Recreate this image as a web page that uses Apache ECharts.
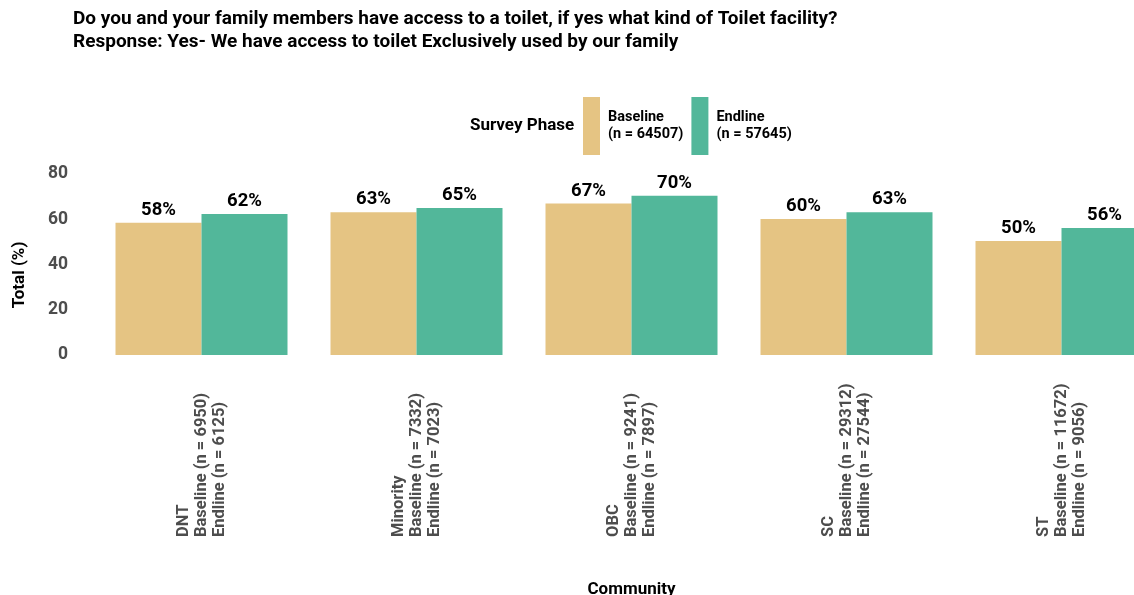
<!DOCTYPE html>
<html>
<head>
<meta charset="utf-8">
<script src="https://cdn.jsdelivr.net/npm/echarts@6/dist/echarts.min.js"></script>
<style>
html,body{margin:0;padding:0;background:#fff;}
#chart{width:1134px;height:595px;}
</style>
</head>
<body>
<div id="chart"></div>
<script>
const categories = ['DNT', 'Minority', 'OBC', 'SC', 'ST'];
const baselineN = [6950, 7332, 9241, 29312, 11672];
const endlineN = [6125, 7023, 7897, 27544, 9056];
const baselineValues = [58.4, 63.1, 67.0, 60.1, 50.4];
const endlineValues = [62.3, 65.0, 70.4, 63.1, 56.1];
const seriesNames = ['Baseline', 'Endline'];
const seriesTotals = [64507, 57645];
const yTicks = [0, 20, 40, 60, 80];

const titleText = 'Do you and your family members have access to a toilet, if yes what kind of Toilet facility?\nResponse: Yes- We have access to toilet Exclusively used by our family';
const FONT = 'Roboto';
const colors = ['#E5C483', '#52B79A'];

const chart = echarts.init(document.getElementById('chart'));
const legendNames = seriesNames.map((s, i) => s + '\n(n = ' + seriesTotals[i] + ')');

chart.setOption({
  animation: false,
  backgroundColor: '#ffffff',
  title: {
    text: titleText,
    left: 73,
    top: 8,
    padding: 0,
    textStyle: {fontFamily: FONT, fontWeight: 'bold', fontSize: 19, color: '#000', lineHeight: 23}
  },
  graphic: [{
    type: 'text',
    left: 470,
    top: 117,
    style: {text: 'Survey Phase', font: 'bold 17px Roboto', fill: '#000'}
  }, {
    type: 'text',
    x: 20,
    y: 275,
    rotation: Math.PI / 2,
    style: {text: 'Total (%)', font: 'bold 17px Roboto', fill: '#000', align: 'center', verticalAlign: 'middle'}
  }],
  legend: {
    left: 583,
    top: 97,
    padding: 0,
    orient: 'horizontal',
    itemWidth: 17,
    itemHeight: 58,
    itemGap: 8,
    icon: 'rect',
    data: legendNames,
    textStyle: {fontFamily: FONT, fontWeight: 'bold', fontSize: 14.5, color: '#000', lineHeight: 17, padding: [0, 0, 0, 3]}
  },
  grid: {left: 94, top: 174, width: 1075, height: 181, containLabel: false, outerBoundsMode: 'none'},
  xAxis: {
    type: 'category',
    data: categories,
    name: 'Community',
    nameLocation: 'middle',
    nameGap: 226,
    nameTextStyle: {fontFamily: FONT, fontWeight: 'bold', fontSize: 17, color: '#000'},
    axisLine: {show: false},
    axisTick: {show: false},
    axisLabel: {
      rotate: 90,
      margin: 22,
      interval: 0,
      formatter: function (v, i) {
        return '{a|' + v + '}\n{a|Baseline (n = ' + baselineN[i] + ')}\n{a|Endline (n = ' + endlineN[i] + ')}';
      },
      rich: {
        a: {width: 160, align: 'left', fontFamily: FONT, fontWeight: 'bold', fontSize: 16.5, color: '#4D4D4D', lineHeight: 18}
      }
    }
  },
  yAxis: {
    type: 'value',
    min: 0,
    max: 80,
    interval: 20,
    splitLine: {show: false},
    axisLine: {show: false},
    axisTick: {show: false},
    axisLabel: {
      margin: 26,
      fontFamily: FONT, fontWeight: 'bold', fontSize: 17.5, color: '#4D4D4D',
      formatter: function (v) { return yTicks.indexOf(v) >= 0 ? String(v) : ''; }
    }
  },
  series: [baselineValues, endlineValues].map((vals, i) => ({
    name: legendNames[i],
    type: 'bar',
    data: vals,
    barGap: '0%',
    barCategoryGap: '20%',
    itemStyle: {color: colors[i]},
    label: {
      show: true,
      position: 'top',
      distance: 3,
      fontFamily: FONT, fontWeight: 'bold', fontSize: 18.5, color: '#000',
      formatter: p => Math.round(p.value) + '%'
    }
  }))
});
</script>
</body>
</html>
